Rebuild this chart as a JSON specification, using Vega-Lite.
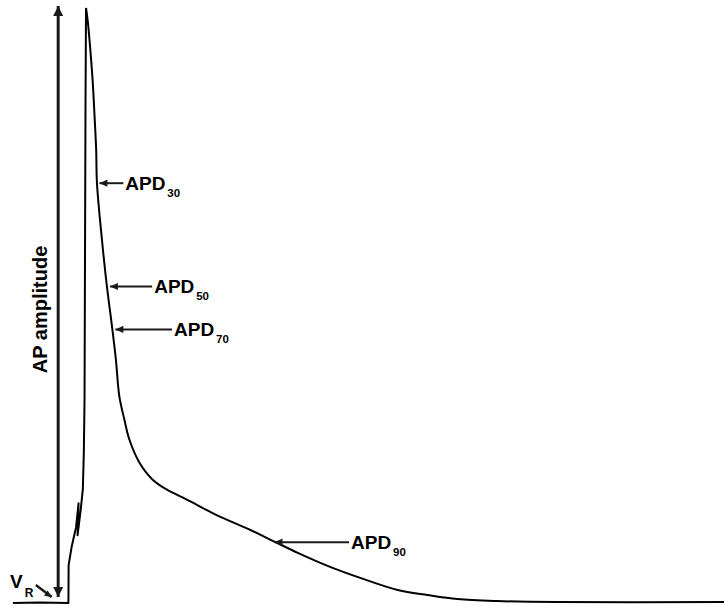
{
  "$schema": "https://vega.github.io/schema/vega-lite/v6.json",
  "width": 728,
  "height": 607,
  "padding": 0,
  "autosize": {"type": "fit", "contains": "padding"},
  "background": "white",
  "config": {"view": {"stroke": null}, "text": {"font": "Liberation Sans", "fontWeight": "bold", "color": "black"}},
  "datasets": {
    "trace": [
      {"phase": "rest", "t": 6.5, "v": -80.0}, {"phase": "rest", "t": 20, "v": -79.9}, {"phase": "rest", "t": 34.4, "v": -80.0},
      {"phase": "rest", "t": 34.5, "v": -72.35}, {"phase": "rest", "t": 36, "v": -68.72}, {"phase": "rest", "t": 38.25, "v": -64.7},
      {"phase": "rest", "t": 39.5, "v": -59.87}, {"phase": "rest", "t": 39, "v": -66.31}, {"phase": "rest", "t": 40.5, "v": -61.48},
      {"phase": "rest", "t": 41.65, "v": -57.05}, {"phase": "rest", "t": 42.15, "v": -49.6}, {"phase": "rest", "t": 42.5, "v": -38.93},
      {"phase": "rest", "t": 43, "v": 21.48}, {"phase": "rest", "t": 43.25, "v": 40.0},
      {"phase": "decay", "t": 43.25, "v": 40.0},
      {"phase": "decay", "t": 44.15, "v": 37.24}, {"phase": "decay", "t": 45.5, "v": 31.14}, {"phase": "decay", "t": 46.65, "v": 24.9},
      {"phase": "decay", "t": 47.5, "v": 18.46}, {"phase": "decay", "t": 48.35, "v": 11.41}, {"phase": "decay", "t": 48.75, "v": 4.66},
      {"phase": "decay", "t": 51.25, "v": -6.71}, {"phase": "decay", "t": 53.75, "v": -16.17}, {"phase": "decay", "t": 56.5, "v": -24.83},
      {"phase": "decay", "t": 58.25, "v": -30.87}, {"phase": "decay", "t": 60, "v": -38.32}, {"phase": "decay", "t": 62.5, "v": -42.95},
      {"phase": "decay", "t": 65, "v": -46.98}, {"phase": "decay", "t": 70, "v": -51.61}, {"phase": "decay", "t": 76.5, "v": -55.03},
      {"phase": "decay", "t": 83.5, "v": -57.05}, {"phase": "decay", "t": 93.5, "v": -59.06}, {"phase": "decay", "t": 105, "v": -61.48},
      {"phase": "decay", "t": 110, "v": -62.48}, {"phase": "decay", "t": 125, "v": -65.1}, {"phase": "decay", "t": 138.5, "v": -67.72},
      {"phase": "decay", "t": 150, "v": -69.93}, {"phase": "decay", "t": 165, "v": -72.55}, {"phase": "decay", "t": 180, "v": -74.77},
      {"phase": "decay", "t": 200, "v": -77.38}, {"phase": "decay", "t": 215, "v": -78.39}, {"phase": "decay", "t": 230, "v": -79.2},
      {"phase": "decay", "t": 250, "v": -79.6}, {"phase": "decay", "t": 280, "v": -79.8}, {"phase": "decay", "t": 364, "v": -79.8}
    ],
    "apd": [
      {"name": "APD", "sub": "30", "tip": 50.0, "tail": 62.0, "v": 4.66},
      {"name": "APD", "sub": "50", "tip": 55.25, "tail": 76.5, "v": -16.17},
      {"name": "APD", "sub": "70", "tip": 58.0, "tail": 86.5, "v": -24.83},
      {"name": "APD", "sub": "90", "tip": 138.0, "tail": 175.5, "v": -67.72}
    ],
    "amplitude": [
      {"label": "AP amplitude", "t": 29.25, "top": 40.4, "bottom": -78.79, "labelT": 20.5, "labelV": -20.8}
    ],
    "rest": [
      {"label": "V", "sub": "R", "t": 5.0, "v": -76.98, "subT": 12.5, "subV": -78.79, "fromT": 18.0, "fromV": -76.38, "toT": 26.0, "toV": -78.79}
    ]
  },
  "layer": [
    {
      "data": {"name": "trace"},
      "transform": [{"filter": "datum.phase === 'rest'"}],
      "mark": {"type": "line", "color": "black", "strokeWidth": 2, "interpolate": "linear", "strokeJoin": "round"},
      "encoding": {
        "x": {"field": "t", "type": "quantitative", "scale": {"domain": [0, 364], "nice": false, "zero": false}, "axis": null},
        "y": {"field": "v", "type": "quantitative", "scale": {"domain": [-80.6, 41.6], "nice": false, "zero": false}, "axis": null},
        "order": {"value": null}
      }
    },
    {
      "data": {"name": "trace"},
      "transform": [{"filter": "datum.phase === 'decay'"}],
      "mark": {"type": "line", "color": "black", "strokeWidth": 2, "interpolate": "catmull-rom"},
      "encoding": {
        "x": {"field": "t", "type": "quantitative"},
        "y": {"field": "v", "type": "quantitative"},
        "order": {"value": null}
      }
    },
    {
      "data": {"name": "apd"},
      "layer": [
        {
          "mark": {"type": "rule", "color": "#1a1a1a", "strokeWidth": 2},
          "encoding": {
            "x": {"field": "tip", "type": "quantitative"},
            "x2": {"field": "tail"},
            "y": {"field": "v", "type": "quantitative"}
          }
        },
        {
          "mark": {"type": "point", "shape": "M0,0L2,-0.9L2,0.9Z", "filled": true, "opacity": 1, "color": "#1a1a1a", "size": 64, "strokeWidth": 0},
          "encoding": {
            "x": {"field": "tip", "type": "quantitative"},
            "y": {"field": "v", "type": "quantitative"}
          }
        },
        {
          "mark": {"type": "text", "fontSize": 19, "align": "left", "baseline": "alphabetic", "dx": 2, "dy": 7},
          "encoding": {
            "x": {"field": "tail", "type": "quantitative"},
            "y": {"field": "v", "type": "quantitative"},
            "text": {"field": "name"}
          }
        },
        {
          "mark": {"type": "text", "fontSize": 11.5, "align": "left", "baseline": "alphabetic", "dx": 44, "dy": 14},
          "encoding": {
            "x": {"field": "tail", "type": "quantitative"},
            "y": {"field": "v", "type": "quantitative"},
            "text": {"field": "sub"}
          }
        }
      ]
    },
    {
      "data": {"name": "amplitude"},
      "layer": [
        {
          "mark": {"type": "rule", "color": "#1a1a1a", "strokeWidth": 3},
          "encoding": {
            "x": {"field": "t", "type": "quantitative"},
            "y": {"field": "top", "type": "quantitative"},
            "y2": {"field": "bottom"}
          }
        },
        {
          "mark": {"type": "point", "shape": "M0,0L-1,2L1,2Z", "filled": true, "opacity": 1, "color": "#1a1a1a", "size": 100, "strokeWidth": 0},
          "encoding": {
            "x": {"field": "t", "type": "quantitative"},
            "y": {"field": "top", "type": "quantitative"}
          }
        },
        {
          "mark": {"type": "point", "shape": "M0,0L-1,-2L1,-2Z", "filled": true, "opacity": 1, "color": "#1a1a1a", "size": 100, "strokeWidth": 0},
          "encoding": {
            "x": {"field": "t", "type": "quantitative"},
            "y": {"field": "bottom", "type": "quantitative"}
          }
        },
        {
          "mark": {"type": "text", "fontSize": 20, "angle": 270, "align": "center", "baseline": "middle"},
          "encoding": {
            "x": {"field": "labelT", "type": "quantitative"},
            "y": {"field": "labelV", "type": "quantitative"},
            "text": {"field": "label"}
          }
        }
      ]
    },
    {
      "data": {"name": "rest"},
      "layer": [
        {
          "mark": {"type": "text", "fontSize": 19, "align": "left", "baseline": "alphabetic"},
          "encoding": {
            "x": {"field": "t", "type": "quantitative"},
            "y": {"field": "v", "type": "quantitative"},
            "text": {"field": "label"}
          }
        },
        {
          "mark": {"type": "text", "fontSize": 12, "align": "left", "baseline": "alphabetic"},
          "encoding": {
            "x": {"field": "subT", "type": "quantitative"},
            "y": {"field": "subV", "type": "quantitative"},
            "text": {"field": "sub"}
          }
        },
        {
          "mark": {"type": "rule", "color": "#1a1a1a", "strokeWidth": 2.5},
          "encoding": {
            "x": {"field": "fromT", "type": "quantitative"},
            "y": {"field": "fromV", "type": "quantitative"},
            "x2": {"field": "toT"},
            "y2": {"field": "toV"}
          }
        },
        {
          "mark": {"type": "point", "shape": "M0,0L-2,-0.9L-2,0.9Z", "angle": 34, "filled": true, "opacity": 1, "color": "#1a1a1a", "size": 49, "strokeWidth": 0},
          "encoding": {
            "x": {"field": "toT", "type": "quantitative"},
            "y": {"field": "toV", "type": "quantitative"}
          }
        }
      ]
    }
  ]
}
